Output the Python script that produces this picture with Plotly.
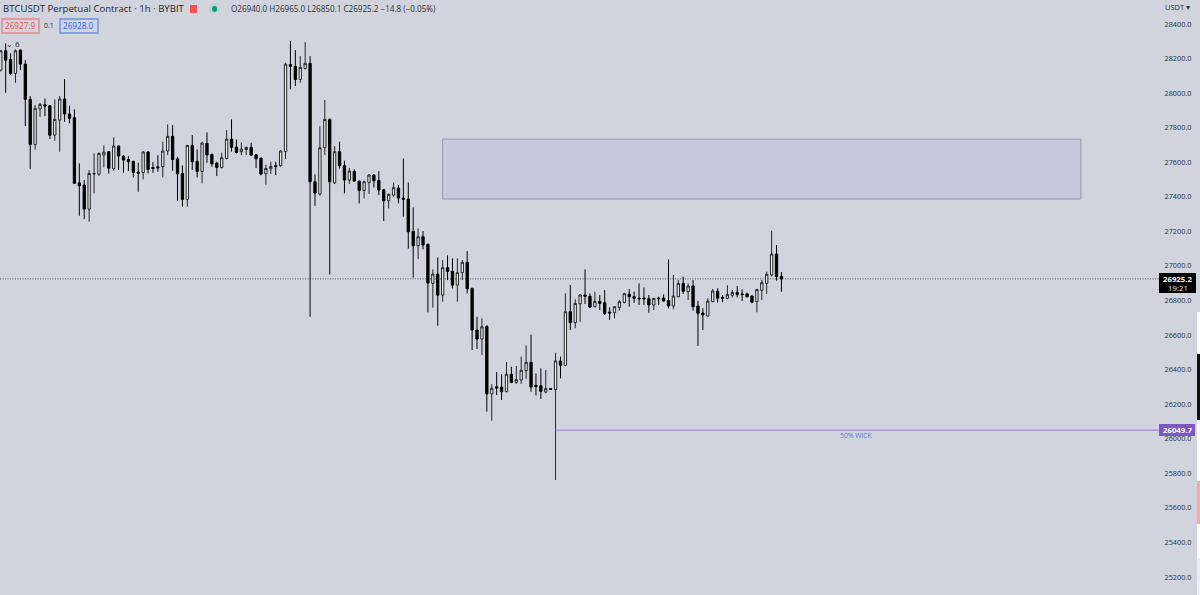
import plotly.graph_objects as go

BG = "#d1d4dc"
FONT = "Open Sans, sans-serif"

opens = [
    28133, 28245, 28195, 28114, 28249, 28168, 27964, 27703, 27908, 27933, 27927, 27757, 27844, 27966, 27879, 27858,
    27481, 27468, 27329, 27531, 27531, 27642, 27661, 27564, 27694, 27636, 27616, 27605, 27543, 27541, 27659, 27570,
    27574, 27574, 27665, 27750, 27620, 27535, 27385, 27697, 27605, 27547, 27709, 27645, 27595, 27570, 27622, 27734,
    27688, 27661, 27674, 27686, 27643, 27624, 27533, 27562, 27580, 27580, 27661, 28166, 28155, 28079, 28143, 28172,
    27487, 27416, 27684, 27848, 27481, 27661, 27580, 27497, 27547, 27491, 27437, 27483, 27526, 27495, 27441, 27377,
    27410, 27451, 27393, 27387, 27200, 27117, 27169, 27125, 26899, 26953, 26831, 26990, 26970, 26889, 26961, 27021,
    26870, 26629, 26577, 26650, 26259, 26301, 26299, 26272, 26373, 26326, 26340, 26394, 26442, 26309, 26307, 26270,
    26290, 26284, 26450, 26425, 26735, 26672, 26781, 26832, 26824, 26764, 26795, 26787, 26733, 26729, 26760, 26789,
    26837, 26822, 26814, 26814, 26810, 26774, 26814, 26814, 26799, 26768, 26822, 26899, 26851, 26884, 26768, 26728,
    26710, 26793, 26853, 26818, 26813, 26830, 26847, 26838, 26838, 26826, 26793, 26859, 26899, 26948, 27069, 26940,
]
highs = [
    28250, 28288, 28230, 28253, 28253, 28191, 27983, 27931, 27944, 27969, 27931, 27964, 27983, 28081, 27927, 27906,
    27593, 27497, 27555, 27651, 27657, 27697, 27665, 27744, 27697, 27640, 27636, 27609, 27597, 27665, 27665, 27601,
    27641, 27719, 27819, 27815, 27632, 27582, 27701, 27757, 27674, 27719, 27773, 27651, 27603, 27655, 27786, 27848,
    27732, 27715, 27690, 27713, 27647, 27628, 27586, 27603, 27603, 27670, 28176, 28303, 28249, 28214, 28295, 28214,
    27530, 27809, 27960, 27854, 27694, 27719, 27609, 27568, 27559, 27493, 27493, 27532, 27532, 27549, 27445, 27420,
    27483, 27468, 27622, 27483, 27339, 27217, 27202, 27130, 26980, 27049, 27034, 27061, 27044, 27044, 27034, 27086,
    26874, 26706, 26697, 26658, 26315, 26386, 26373, 26444, 26417, 26421, 26475, 26540, 26602, 26378, 26407, 26398,
    26294, 26498, 26475, 26841, 26890, 26807, 26837, 26980, 26841, 26851, 26832, 26860, 26760, 26768, 26803, 26845,
    26866, 26851, 26899, 26876, 26832, 26814, 26822, 26835, 27038, 26948, 26919, 26938, 26899, 26919, 26797, 26755,
    26813, 26867, 26871, 26832, 26888, 26861, 26884, 26865, 26845, 26830, 26867, 26919, 26967, 27204, 27121, 26965,
]
lows = [
    28125, 28002, 28104, 28060, 28133, 27809, 27562, 27674, 27863, 27867, 27734, 27724, 27661, 27834, 27825, 27474,
    27290, 27271, 27256, 27420, 27520, 27570, 27535, 27551, 27555, 27539, 27549, 27512, 27429, 27501, 27535, 27539,
    27545, 27512, 27641, 27551, 27377, 27343, 27343, 27555, 27512, 27478, 27597, 27574, 27520, 27564, 27616, 27661,
    27651, 27641, 27643, 27638, 27566, 27524, 27470, 27532, 27526, 27574, 27618, 28022, 28041, 28060, 28137, 26706,
    27348, 27406, 27642, 26951, 27474, 27564, 27420, 27474, 27487, 27362, 27391, 27416, 27454, 27410, 27260, 27333,
    27400, 27362, 27285, 27100, 26932, 27040, 27096, 26731, 26758, 26654, 26793, 26918, 26870, 26793, 26919, 26841,
    26513, 26519, 26484, 26157, 26104, 26253, 26224, 26272, 26321, 26317, 26317, 26346, 26272, 26251, 26230, 26263,
    26282, 25761, 26349, 26421, 26629, 26639, 26677, 26780, 26756, 26760, 26745, 26716, 26687, 26697, 26741, 26783,
    26764, 26787, 26774, 26774, 26729, 26745, 26774, 26793, 26754, 26749, 26818, 26838, 26803, 26741, 26537, 26629,
    26707, 26790, 26788, 26790, 26807, 26817, 26818, 26797, 26818, 26784, 26732, 26803, 26838, 26938, 26915, 26850.1,
]
closes = [
    28245, 28191, 28114, 28245, 28168, 27964, 27703, 27912, 27935, 27925, 27757, 27848, 27966, 27879, 27854, 27478,
    27464, 27329, 27535, 27535, 27651, 27659, 27566, 27694, 27636, 27613, 27603, 27541, 27537, 27659, 27559, 27564,
    27568, 27665, 27750, 27616, 27532, 27385, 27697, 27603, 27547, 27711, 27642, 27591, 27570, 27626, 27734, 27686,
    27657, 27676, 27686, 27641, 27620, 27532, 27564, 27576, 27576, 27665, 28168, 28155, 28079, 28149, 28172, 27487,
    27422, 27684, 27848, 27487, 27661, 27580, 27497, 27549, 27491, 27437, 27487, 27526, 27493, 27439, 27377, 27414,
    27453, 27393, 27385, 27198, 27117, 27169, 27121, 26901, 26953, 26831, 26990, 26968, 26889, 26961, 27021, 26868,
    26629, 26577, 26648, 26259, 26292, 26293, 26272, 26373, 26326, 26342, 26396, 26442, 26299, 26301, 26274, 26290,
    26286, 26450, 26425, 26735, 26672, 26783, 26832, 26824, 26762, 26795, 26783, 26725, 26727, 26764, 26793, 26839,
    26822, 26812, 26810, 26810, 26774, 26812, 26810, 26797, 26768, 26826, 26899, 26853, 26884, 26764, 26726, 26716,
    26797, 26855, 26813, 26813, 26834, 26847, 26834, 26834, 26822, 26790, 26863, 26903, 26952, 27069, 26938, 26925.2,
]

price_ticks = [25200, 25400, 25600, 25800, 26000, 26200, 26400, 26600, 26800, 27000, 27200, 27400, 27600, 27800, 28000, 28200, 28400]
last_price = 26925.2
wick_level = 26049.7
wick_start = 113
zone_low, zone_high = 27387, 27734
zone_start, zone_end = 90, 220


def label(x, y, text, size=8, color="#2a2e39", anchor="left"):
    return dict(
        xref="paper", yref="paper", x=x / 1200, y=1 - y / 595, text=text, showarrow=False,
        xanchor=anchor, yanchor="middle", font={"size": size, "color": color, "family": FONT},
        borderpad=0,
    )


def box(x0, y0, x1, y1, fill, line=None, width=1):
    return dict(
        type="rect", xref="paper", yref="paper", layer="above",
        x0=x0 / 1200, x1=x1 / 1200, y0=1 - y0 / 595, y1=1 - y1 / 595,
        fillcolor=fill, line={"color": line or fill, "width": width if line else 0},
    )


fig = go.Figure(
    go.Candlestick(
        x=list(range(len(opens))),
        open=opens,
        high=highs,
        low=lows,
        close=closes,
        increasing={"line": {"color": "#262626", "width": 1}, "fillcolor": "#eceef2"},
        decreasing={"line": {"color": "#000000", "width": 1}, "fillcolor": "#000000"},
    )
)

shapes = [
    dict(type="rect", xref="x", yref="y", x0=zone_start, x1=zone_end, y0=zone_low, y1=zone_high,
         fillcolor="#cac8dc", line={"color": "#9a97ad", "width": 1}, layer="below"),
    dict(type="line", xref="x", yref="y", x0=wick_start, x1=235.9, y0=wick_level, y1=wick_level,
         line={"color": "#9a7fd0", "width": 1}),
    dict(type="line", xref="x", yref="y", x0=-0.155, x1=235.9, y0=last_price, y1=last_price,
         line={"color": "#555555", "width": 1, "dash": "1px,1.5px"}, layer="below"),
    # price tags
    box(1159, 273, 1196, 293, "#000000"),
    box(1159, 424, 1195, 436, "#7e57c2"),
    # order boxes and status marks in the header
    box(2, 19, 39, 33, BG, "#f08288", 1.4),
    box(60, 19, 98, 33, BG, "#6d8fe8", 1.4),
    box(190, 5, 197, 13, "#f4504f"),
    dict(type="circle", xref="paper", yref="paper", x0=209 / 1200, x1=219 / 1200, y0=1 - 14 / 595, y1=1 - 4 / 595,
         fillcolor="#b9d3d0", line={"width": 0}),
    dict(type="circle", xref="paper", yref="paper", x0=212 / 1200, x1=217 / 1200, y0=1 - 12 / 595, y1=1 - 6 / 595,
         fillcolor="#089981", line={"width": 0}),
    # sliver of another window at the right edge
    box(1197, 312, 1200, 354, "#ffffff"),
    box(1197, 354, 1200, 420, "#111111"),
    box(1197, 420, 1200, 481, "#ffffff"),
    box(1197, 481, 1200, 524, "#f5a9a9"),
    box(1197, 524, 1200, 558, "#ffffff"),
    box(1197, 558, 1200, 583, "#e3ecf7"),
    box(1197, 583, 1200, 595, "#f0f1f3"),
]

annotations = [
    label(2, 9, "BTCUSDT Perpetual Contract · 1h · BYBIT", size=9.6, color="#1e222d"),
    label(230, 9, "O26940.0 H26965.0 L26850.1 C26925.2 −14.8 (−0.05%)", size=8.1, color="#2a2e39"),
    label(20.5, 26, "26927.9", size=8.2, color="#ef5350", anchor="center"),
    label(49, 26, "0.1", size=7, color="#2a2e39", anchor="center"),
    label(79, 26, "26928.0", size=8.2, color="#2962ff", anchor="center"),
    label(13, 44, "⌄ 6", size=8, color="#2a2e39", anchor="center"),
    label(1177, 7, "USDT ▾", size=7.5, color="#2a2e39", anchor="center"),
    label(1177.5, 278.5, "<b>26925.2</b>", size=7.8, color="#ffffff", anchor="center"),
    label(1177.5, 287.5, "19:21", size=7.8, color="#e0e3eb", anchor="center"),
    label(1177.5, 430, "<b>26049.7</b>", size=7.8, color="#ffffff", anchor="center"),
    label(857, 436, "50% WICK", size=6.8, color="#5075e6", anchor="center"),
]

fig.update_layout(
    width=1200,
    height=595,
    margin={"l": 0, "r": 0, "t": 0, "b": 0},
    paper_bgcolor=BG,
    plot_bgcolor=BG,
    showlegend=False,
    boxgap=0.33,
    shapes=shapes,
    annotations=annotations,
    font={"family": FONT, "color": "#2a2e39", "size": 8},
    xaxis={
        "domain": [0, 1159 / 1200],
        "range": [-0.155, 235.9],
        "rangeslider": {"visible": False},
        "showgrid": False,
        "zeroline": False,
        "showticklabels": False,
        "ticks": "",
    },
    yaxis={
        "side": "right",
        "range": [25095.6, 28539],
        "tickvals": price_ticks,
        "ticktext": [f"{p}.0" for p in price_ticks],
        "tickfont": {"size": 7.3, "color": "#2a2e39", "family": FONT},
        "showgrid": False,
        "zeroline": False,
        "ticks": "outside",
        "ticklen": 3,
        "tickcolor": BG,
    },
)

fig.write_html("out.html", config={"displayModeBar": False}, post_script="document.body.style.margin='0';")
